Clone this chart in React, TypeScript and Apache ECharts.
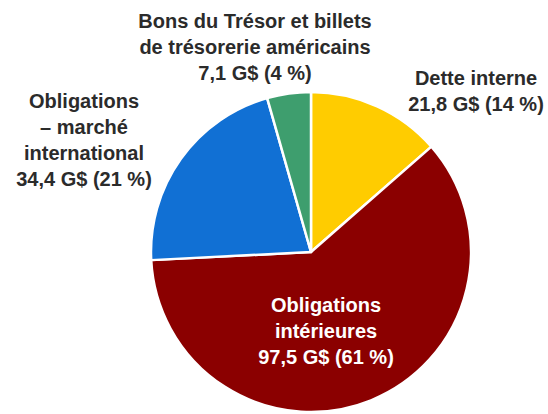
import React, { useEffect, useRef } from "react";
import * as echarts from "echarts";

const categories = [
  "Dette interne",
  "Obligations\nintérieures",
  "Obligations\n– marché\ninternational",
  "Bons du Trésor et billets\nde trésorerie américains",
];
const values = [21.8, 97.5, 34.4, 7.1];
const colors = ["#FFCC00", "#8B0000", "#1170D4", "#3E9E6E"];
const labelColors = ["#2B2B2B", "#FFFFFF", "#2B2B2B", "#2B2B2B"];

// label centres (layout)
const labelPos = [
  [476, 91],
  [326, 331],
  [84, 140],
  [255, 47],
];

export default function App() {
  const ref = useRef<HTMLDivElement>(null);
  useEffect(() => {
    if (!ref.current) return;
    const chart = echarts.init(ref.current, undefined, { renderer: "svg" });
    const total = values.reduce((a, b) => a + b, 0);
    chart.setOption({
      animation: false,
      series: [
        {
          type: "pie",
          center: [311, 252],
          radius: [0, 160],
          startAngle: 90,
          clockwise: true,
          itemStyle: { borderColor: "#FFFFFF", borderWidth: 2.5 },
          labelLine: { show: false },
          emphasis: { disabled: true },
          data: categories.map((name, i) => ({
            name,
            value: values[i],
            itemStyle: { color: colors[i] },
            label: {
              show: true,
              position: "inside",
              color: labelColors[i],
              fontFamily: "Liberation Sans, Arial, sans-serif",
              fontWeight: "bold",
              fontSize: 20,
              lineHeight: 26,
              align: "center",
              formatter: () =>
                `${name}\n${values[i].toFixed(1).replace(".", ",")} G$ (${Math.round(
                  (values[i] / total) * 100
                )} %)`,
            },
          })),
          labelLayout: (params: any) => {
            const p = labelPos[params.dataIndex];
            return { x: p[0], y: p[1], align: "center", verticalAlign: "middle" };
          },
        },
      ],
    });
    return () => chart.dispose();
  }, []);
  return (
    <div
      ref={ref}
      style={{ position: "fixed", left: 0, top: 0, width: 548, height: 414, background: "#fff" }}
    />
  );
}
